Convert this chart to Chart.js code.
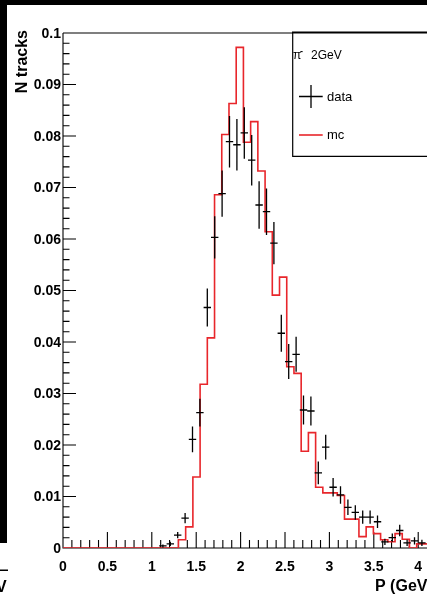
<!DOCTYPE html>
<html>
<head>
<meta charset="utf-8">
<script src="https://cdn.jsdelivr.net/npm/chart.js@4.4.1/dist/chart.umd.min.js"></script>
<style>
html, body { margin: 0; padding: 0; background: #fff; }
canvas { display: block; }
</style>
</head>
<body>
<canvas id="momentumChart" width="427" height="598"></canvas>
<script>
// mc histogram, fixed bin width from the first edge
const mcFirstEdge = 1.30;
const mcBinWidth = 0.0813;
const mcValues = [0.0016, 0.0041, 0.0138, 0.0318, 0.0408, 0.0686, 0.0803, 0.0863, 0.0972, 0.0788,
    0.0828, 0.0732, 0.0614, 0.0491, 0.0526, 0.0352, 0.0339, 0.0188, 0.0224, 0.0118,
    0.0107, 0.0107, 0.0102, 0.0056, 0.0056, 0.0022, 0.0041, 0.0028, 0.0016, 0.0012,
    0.0028, 0.0017, 0, 0.0008, 0.0008];

// data points at bin centres
const dataFirstCentre = 1.125;
const dataStep = 1 / 12;
const dataValues = [0.0004, 0.0008, 0.0025, 0.0058, 0.0211, 0.0263, 0.0467, 0.0603, 0.0688, 0.0789,
    0.0783, 0.0806, 0.0753, 0.0666, 0.0653, 0.0592, 0.0417, 0.0362, 0.0376, 0.0268,
    0.0266, 0.0146, 0.0196, 0.0118, 0.0103, 0.0079, 0.0069, 0.0060, 0.0060, 0.0051,
    0.0012, 0.0020, 0.0034, 0.0010, 0.0014, 0.0010];
const dataErrors = [0.0003, 0.0004, 0.0006, 0.0010, 0.0025, 0.0027, 0.0037, 0.0041, 0.0045, 0.0050,
    0.0050, 0.0050, 0.0049, 0.0046, 0.0045, 0.0041, 0.0036, 0.0034, 0.0034, 0.0028,
    0.0028, 0.0022, 0.0024, 0.0018, 0.0017, 0.0015, 0.0014, 0.0013, 0.0013, 0.0012,
    0.0006, 0.0008, 0.0011, 0.0006, 0.0007, 0.0006];

const xTickValues = [0, 0.5, 1, 1.5, 2, 2.5, 3, 3.5, 4];
const xTickLabels = ['0', '0.5', '1', '1.5', '2', '2.5', '3', '3.5', '4'];
const yTickValues = [0, 0.01, 0.02, 0.03, 0.04, 0.05, 0.06, 0.07, 0.08, 0.09, 0.1];
const yTickLabels = ['0', '0.01', '0.02', '0.03', '0.04', '0.05', '0.06', '0.07', '0.08', '0.09', '0.1'];

const RED = '#e8262b';
const FONT = '"Liberation Sans", Arial, Helvetica, sans-serif';

// step points: left edge carries the bin value
const mcPoints = [{ x: 0, y: 0 }];
mcValues.forEach((v, k) => mcPoints.push({ x: mcFirstEdge + k * mcBinWidth, y: v }));
mcPoints.push({ x: mcFirstEdge + mcValues.length * mcBinWidth, y: mcValues[mcValues.length - 1] });

const dataPoints = dataValues.map((v, i) => ({ x: dataFirstCentre + i * dataStep, y: v }));

const rootStyle = {
    id: 'rootStyle',
    beforeDraw(chart) {
        const c = chart.ctx;
        c.save();
        c.fillStyle = '#fff';
        c.fillRect(0, 0, chart.width, chart.height);
        c.restore();
    },
    beforeDatasetsDraw(chart) {
        const c = chart.ctx;
        const xs = chart.scales.x, ys = chart.scales.y;
        const a = chart.chartArea;
        c.save();
        c.strokeStyle = '#000';
        c.lineWidth = 1.1;
        c.beginPath();
        // frame: left, bottom, top
        c.moveTo(a.left, a.top); c.lineTo(a.left, a.bottom); c.lineTo(a.right, a.bottom);
        c.moveTo(a.left, a.top); c.lineTo(a.right, a.top);

        // y ticks (inside, from the left axis)
        for (let i = 0; i < yTickValues.length; i++) {
            const py = ys.getPixelForValue(yTickValues[i]);
            c.moveTo(a.left, py); c.lineTo(a.left + 13, py);
            if (i < yTickValues.length - 1) {
                const step = (yTickValues[i + 1] - yTickValues[i]) / 5;
                for (let m = 1; m < 5; m++) {
                    const my = ys.getPixelForValue(yTickValues[i] + m * step);
                    c.moveTo(a.left, my); c.lineTo(a.left + 6.5, my);
                }
            }
        }
        // x ticks (inside, from the bottom axis)
        for (let i = 0; i < xTickValues.length; i++) {
            const px = xs.getPixelForValue(xTickValues[i]);
            c.moveTo(px, a.bottom); c.lineTo(px, a.bottom - 16);
            const step = 0.1;
            for (let m = 1; m < 5; m++) {
                const mx = xs.getPixelForValue(xTickValues[i] + m * step);
                if (mx > a.right) break;
                c.moveTo(mx, a.bottom); c.lineTo(mx, a.bottom - 8);
            }
        }
        c.stroke();

        // tick labels
        c.fillStyle = '#000';
        c.font = 'bold 14px ' + FONT;
        c.textAlign = 'right';
        c.textBaseline = 'middle';
        yTickValues.forEach((v, i) => c.fillText(yTickLabels[i], a.left - 2, ys.getPixelForValue(v) + 1));
        c.textAlign = 'center';
        c.textBaseline = 'alphabetic';
        xTickValues.forEach((v, i) => c.fillText(xTickLabels[i], xs.getPixelForValue(v), a.bottom + 23));

        // axis titles
        c.font = 'bold 16px ' + FONT;
        c.textAlign = 'left';
        c.fillText('P (GeV/c)', 375, 591);
        c.save();
        c.translate(26.5, 30);
        c.rotate(-Math.PI / 2);
        c.textAlign = 'right';
        c.fillText('N tracks', 0, 0);
        c.restore();
        c.restore();
    },
    afterDatasetsDraw(chart) {
        const c = chart.ctx;
        const xs = chart.scales.x, ys = chart.scales.y;
        const a = chart.chartArea;
        const meta = chart.getDatasetMeta(1);
        c.save();
        c.beginPath();
        c.rect(a.left, a.top, a.right - a.left, a.bottom - a.top + 1);
        c.clip();
        c.strokeStyle = '#000';
        c.lineWidth = 1.3;
        c.beginPath();
        meta.data.forEach((pt, i) => {
            const x = dataPoints[i].x;
            const x0 = xs.getPixelForValue(x - dataStep / 2);
            const x1 = xs.getPixelForValue(x + dataStep / 2);
            const y0 = ys.getPixelForValue(dataValues[i] - dataErrors[i]);
            const y1 = ys.getPixelForValue(dataValues[i] + dataErrors[i]);
            c.moveTo(x0, pt.y); c.lineTo(x1, pt.y);
            c.moveTo(pt.x, y0); c.lineTo(pt.x, y1);
        });
        c.stroke();
        c.restore();
    },
    afterDraw(chart) {
        const c = chart.ctx;
        c.save();
        // legend box
        c.fillStyle = '#fff';
        c.fillRect(292.5, 33, 140, 123);
        c.strokeStyle = '#000';
        c.lineWidth = 1.2;
        c.beginPath();
        c.moveTo(440, 156.3); c.lineTo(292.7, 156.3); c.lineTo(292.7, 32);
        c.stroke();
        c.lineWidth = 2;
        c.beginPath();
        c.moveTo(292, 32.5); c.lineTo(427, 32.5);
        c.stroke();

        c.fillStyle = '#000';
        c.textAlign = 'left';
        c.textBaseline = 'alphabetic';
        c.font = '12px ' + FONT;
        c.fillText('π', 293, 59);
        c.font = 'bold 9px ' + FONT;
        c.fillText('-', 300, 54);
        c.font = '12px ' + FONT;
        c.fillText('2GeV', 311, 59);

        c.lineWidth = 1.3;
        c.beginPath();
        c.moveTo(299, 96.5); c.lineTo(322.7, 96.5);
        c.moveTo(311, 85); c.lineTo(311, 108);
        c.stroke();
        c.strokeStyle = RED;
        c.lineWidth = 1.6;
        c.beginPath();
        c.moveTo(299, 135); c.lineTo(322.7, 135);
        c.stroke();

        c.font = '13px ' + FONT;
        c.textBaseline = 'middle';
        c.fillText('data', 327, 97);
        c.fillText('mc', 327, 135);

        // cropped neighbouring pads
        c.fillStyle = '#000';
        c.fillRect(0, 0, 427, 5);
        c.fillRect(0, 0, 7, 543);
        c.fillRect(0, 569.5, 8, 1.5);
        c.font = 'bold 16px ' + FONT;
        c.textBaseline = 'alphabetic';
        c.fillText('V', -4, 592);
        c.restore();
    }
};

new Chart(document.getElementById('momentumChart').getContext('2d'), {
    type: 'scatter',
    data: {
        datasets: [
            {
                label: 'mc',
                type: 'line',
                data: mcPoints,
                stepped: true,
                borderColor: RED,
                borderWidth: 1.6,
                pointRadius: 0,
                fill: false
            },
            {
                label: 'data',
                data: dataPoints,
                pointRadius: 0,
                borderColor: '#000',
                backgroundColor: '#000'
            }
        ]
    },
    options: {
        responsive: false,
        animation: false,
        layout: { padding: { left: 63, top: 33, right: 0, bottom: 50 } },
        plugins: { legend: { display: false }, tooltip: { enabled: false } },
        scales: {
            x: { type: 'linear', min: 0, max: 4.099, display: false },
            y: { type: 'linear', min: 0, max: 0.1, display: false }
        }
    },
    plugins: [rootStyle]
});
</script>
</body>
</html>
